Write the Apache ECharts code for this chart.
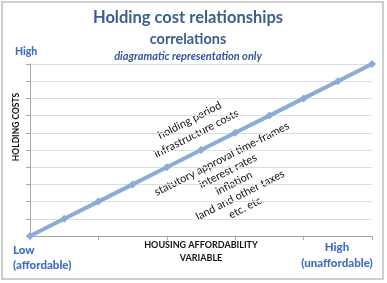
<!DOCTYPE html>
<html>
<head>
<meta charset="utf-8">
<script src="https://cdn.jsdelivr.net/npm/echarts@6/dist/echarts.min.js"></script>
<style>
  html, body { margin: 0; padding: 0; background: #fff; }
  #chart { width: 387px; height: 283px; }
</style>
</head>
<body>
<div id="chart"></div>
<script>
// affordability steps along the x axis
let affordability = [0, 1, 2, 3, 4, 5, 6, 7, 8, 9, 10];
// holding cost
let holdingCost = [0, 1, 2, 3, 4, 5, 6, 7, 8, 9, 10];
// notes written along the line
let notesAbove = ['holding period', 'infrastructure costs'];
let notesBelow = ['statutory approval time-frames', 'interest rates', 'inflation', 'land and other taxes', 'etc. etc.'];

let chartDom = document.getElementById('chart');
let chart = echarts.init(chartDom);

let blue = '#3f6fc0';
let titleBlue = '#3c5e8e';
let ang = 27 * Math.PI / 180;

let option = {
  backgroundColor: '#fff',
  animation: false,
  grid: { left: 30, right: 15, top: 64, bottom: 47 },
  xAxis: {
    type: 'value',
    min: 0, max: 10, interval: 2,
    axisLine: { show: true, lineStyle: { color: '#a6a6a6', width: 1 } },
    axisTick: { show: true, length: 4, lineStyle: { color: '#a6a6a6' } },
    axisLabel: { show: false },
    splitLine: { show: false }
  },
  yAxis: {
    type: 'value',
    min: 0, max: 10, interval: 1,
    axisLine: { show: true, lineStyle: { color: '#a6a6a6', width: 1 } },
    axisTick: { show: true, length: 4, lineStyle: { color: '#a6a6a6' } },
    axisLabel: { show: false },
    splitLine: { show: true, lineStyle: { color: '#d6deec', width: 1 } }
  },
  series: [{
    type: 'line',
    data: affordability.map((x, i) => [x, holdingCost[i]]),
    symbol: 'diamond',
    symbolSize: 8,
    showSymbol: true,
    lineStyle: { color: '#8eaad6', width: 4 },
    itemStyle: { color: '#8eaad6' }
  }],
  graphic: [
    { type: 'rect', shape: { x: 2, y: 2, width: 381, height: 277 }, style: { fill: 'none', stroke: '#bfbfbf', lineWidth: 1.5 }, silent: true },
    { type: 'text', x: 188, y: 18, style: { text: 'Holding cost relationships', font: 'bold 16.5px Lato', fill: titleBlue, textAlign: 'center', textVerticalAlign: 'middle' } },
    { type: 'text', x: 188, y: 39, style: { text: 'correlations', font: 'bold 14.5px Lato', fill: titleBlue, textAlign: 'center', textVerticalAlign: 'middle' } },
    { type: 'text', x: 188, y: 56, style: { text: 'diagramatic representation only', font: 'italic bold 11px Lato', fill: '#34569a', textAlign: 'center', textVerticalAlign: 'middle' } },
    { type: 'text', x: 15, y: 52, style: { text: 'High', font: '900 10.5px Lato', fill: blue, textAlign: 'left', textVerticalAlign: 'middle' } },
    { type: 'text', x: 16, y: 127, rotation: Math.PI / 2, style: { text: 'HOLDING COSTS', font: 'bold 8.5px Lato', fill: '#111', textAlign: 'center', textVerticalAlign: 'middle' } },
    { type: 'text', x: 13, y: 258, style: { text: 'Low\n(affordable)', font: '900 11.5px Lato', lineHeight: 15, fill: blue, textAlign: 'left', textVerticalAlign: 'middle' } },
    { type: 'text', x: 201, y: 252, style: { text: 'HOUSING AFFORDABILITY\nVARIABLE', font: 'bold 9px Lato', lineHeight: 13, fill: '#111', textAlign: 'center', textVerticalAlign: 'middle' } },
    { type: 'text', x: 337, y: 255, style: { text: 'High\n(unaffordable)', font: '900 11.5px Lato', lineHeight: 16, fill: blue, textAlign: 'center', textVerticalAlign: 'middle' } },
    { type: 'text', x: 193, y: 127, rotation: ang, style: { text: notesAbove.join('\n'), font: '11px Lato', lineHeight: 15, fill: '#111', textAlign: 'center', textVerticalAlign: 'middle' } },
    { type: 'text', x: 234, y: 183, rotation: ang, style: { text: notesBelow.join('\n'), font: '11px Lato', lineHeight: 13.5, fill: '#111', textAlign: 'center', textVerticalAlign: 'middle' } }
  ]
};

chart.setOption(option);
</script>
</body>
</html>
